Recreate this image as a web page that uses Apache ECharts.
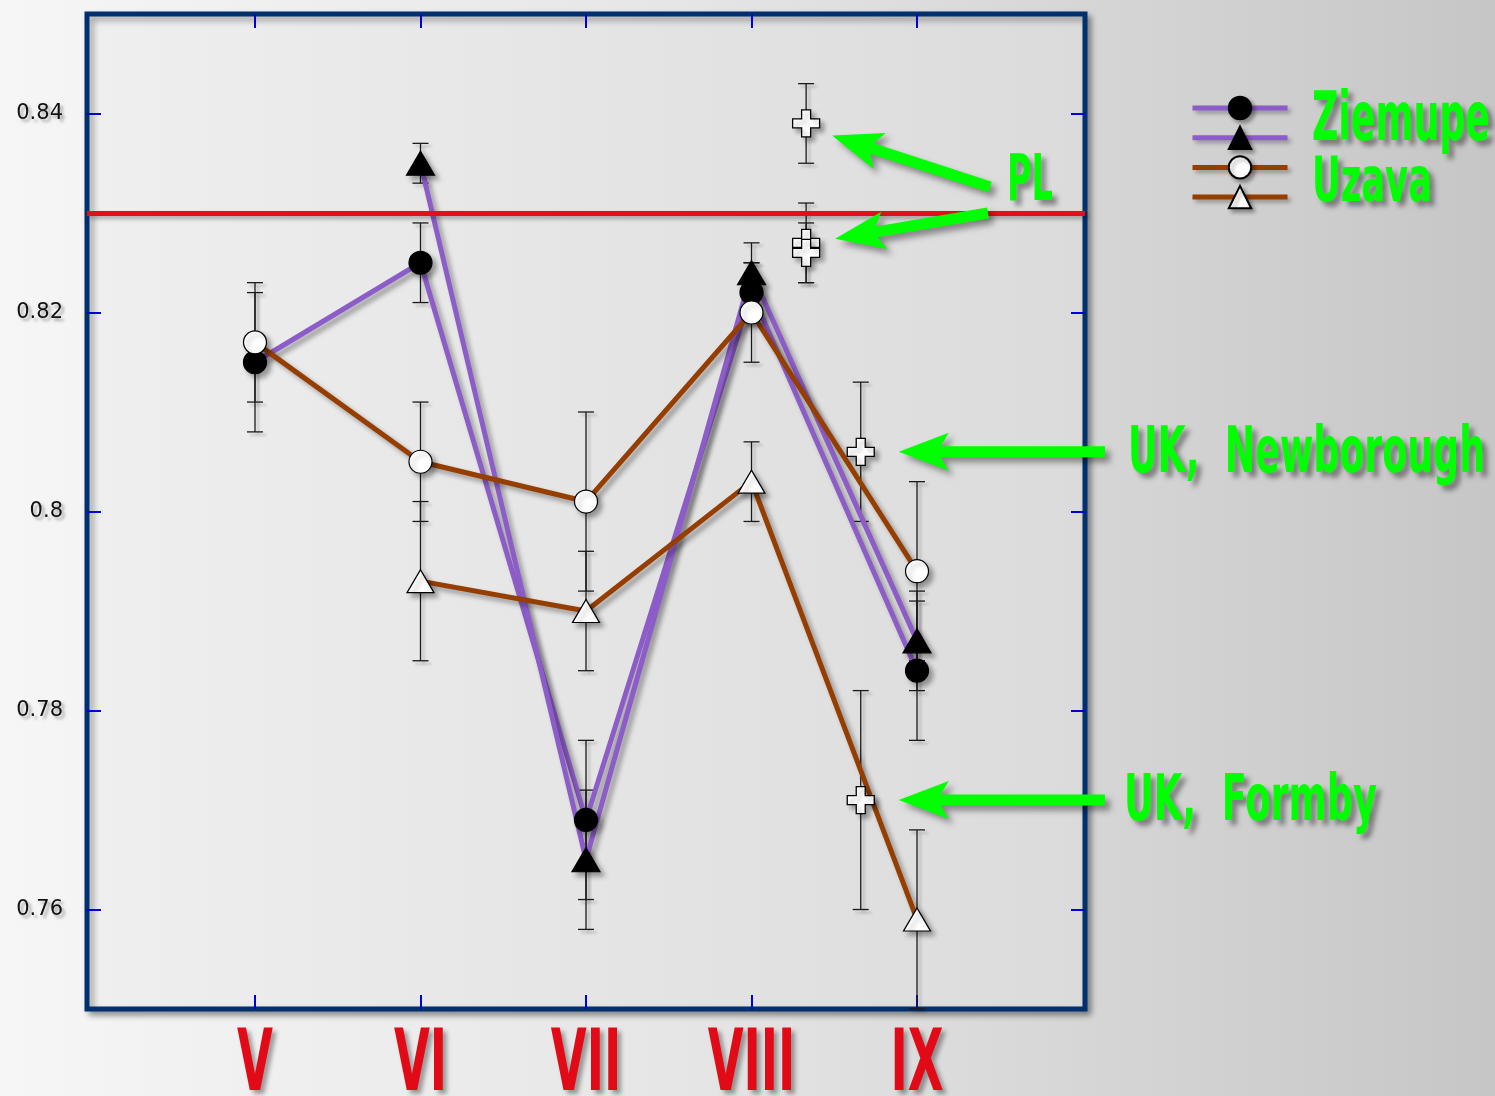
<!DOCTYPE html>
<html>
<head>
<meta charset="utf-8">
<script src="https://cdn.jsdelivr.net/npm/echarts@6/dist/echarts.min.js"></script>
<style>
  html, body { margin: 0; padding: 0; width: 1495px; height: 1096px; overflow: hidden;
    background: linear-gradient(to right, #f6f6f6 0%, #e6e6e6 45%, #c6c6c6 100%); }
  #chart { width: 1495px; height: 1096px; }
</style>
</head>
<body>
<div id="chart"></div>
<script>
// Months (positions on the x scale) and their labels
const monthPos = [0, 1, 2, 3, 4];
const monthLabels = ['V', 'VI', 'VII', 'VIII', 'IX'];

// y ticks
const yTicks = [0.76, 0.78, 0.80, 0.82, 0.84];
const yTickLabels = ['0.76', '0.78', '0.8', '0.82', '0.84'];

// Ziemupe (purple): circle and triangle populations, with error half-widths
const ziemupeCircle      = [0.815, 0.825, 0.769, 0.822, 0.784];
const ziemupeCircleErr   = [0.007, 0.004, 0.008, 0.003, 0.007];
const ziemupeTriangle    = [null, 0.835, 0.765, 0.824, 0.787];
const ziemupeTriangleErr = [null, 0.002, 0.007, 0.003, 0.005];

// Uzava (brown)
const uzavaCircle      = [0.817, 0.805, 0.801, 0.820, 0.794];
const uzavaCircleErr   = [0.006, 0.006, 0.009, 0.005, 0.009];
const uzavaTriangle    = [null, 0.793, 0.790, 0.803, 0.759];
const uzavaTriangleErr = [null, 0.008, 0.006, 0.004, 0.009];

// Reference samples (crosses)
const plPos = 3.33;
const plValues = [0.839, 0.827, 0.826];
const plErr    = [0.004, 0.004, 0.003];
const ukPos = 3.66;
const ukNames  = ['UK,  Newborough', 'UK,  Formby'];
const ukValues = [0.806, 0.771];
const ukErr    = [0.007, 0.011];

// Horizontal reference level
const plLevel = 0.830;

const PURPLE = '#8c5cc8';
const BROWN = '#963e00';
const GREEN = '#00ff00';
const MONTH_RED = '#e20a16';
const NARROW = '"Liberation Sans Narrow", "DejaVu Sans Condensed", "Roboto", sans-serif';
const CROSS = 'path://M9,0H18V9H27V18H18V27H9V18H0V9H9Z';

const dropShadow = { shadowColor: 'rgba(0,0,0,0.35)', shadowBlur: 5, shadowOffsetX: 4, shadowOffsetY: 4 };

function pairs(xs, ys) {
  const out = [];
  ys.forEach((v, i) => { if (v != null) out.push([xs[i], v]); });
  return out;
}

function errorBars(xs, ys, errs) {
  const out = [];
  ys.forEach((v, i) => { if (v != null) out.push([xs[i], v, errs[i]]); });
  return {
    type: 'custom',
    data: out,
    z: 1,
    silent: true,
    encode: { x: 0, y: 1 },
    renderItem(params, api) {
      const x = api.value(0), y = api.value(1), e = api.value(2);
      const hi = api.coord([x, y + e]);
      const lo = api.coord([x, y - e]);
      const w = 8;
      const style = { stroke: '#1a1a1a', lineWidth: 1.3, fill: null,
        shadowColor: 'rgba(0,0,0,0.25)', shadowBlur: 3, shadowOffsetX: 3, shadowOffsetY: 3 };
      return {
        type: 'group',
        children: [
          { type: 'line', shape: { x1: hi[0], y1: hi[1], x2: lo[0], y2: lo[1] }, style },
          { type: 'line', shape: { x1: hi[0] - w, y1: hi[1], x2: hi[0] + w, y2: hi[1] }, style },
          { type: 'line', shape: { x1: lo[0] - w, y1: lo[1], x2: lo[0] + w, y2: lo[1] }, style }
        ]
      };
    }
  };
}

function lineSeries(name, ys, color, symbol, size, fill, z) {
  return {
    type: 'line',
    name,
    data: pairs(monthPos, ys),
    z,
    symbol,
    symbolSize: size,
    showAllSymbol: true,
    lineStyle: Object.assign({ color, width: 5 }, dropShadow),
    itemStyle: Object.assign({ color: fill, borderColor: '#000', borderWidth: 1.2, opacity: 1 }, dropShadow),
    emphasis: { disabled: true }
  };
}

function crossSeries(name, pos, values) {
  return {
    type: 'scatter',
    name,
    z: 5,
    data: values.map(v => [pos, v]),
    symbol: CROSS,
    symbolSize: 27,
    itemStyle: Object.assign({ color: '#fff', borderColor: '#000', borderWidth: 1.3, opacity: 1 },
      { shadowColor: 'rgba(0,0,0,0.3)', shadowBlur: 4, shadowOffsetX: 4, shadowOffsetY: 4 }),
    emphasis: { disabled: true }
  };
}

const chart = echarts.init(document.getElementById('chart'), null, { renderer: 'canvas' });

const gridBox = { left: 87, right: 410, top: 14, bottom: 87 };

const tickStyle = { show: true, inside: true, length: 14, lineStyle: { color: '#0000d8', width: 2 } };
const hiddenLine = { show: false, onZero: false };

const plSeries = crossSeries('PL', plPos, plValues);
plSeries.markLine = {
  silent: true,
  symbol: 'none',
  label: { show: false },
  lineStyle: { color: '#e20f1c', width: 5, type: 'solid',
    shadowColor: 'rgba(0,0,0,0.3)', shadowBlur: 4, shadowOffsetX: 3, shadowOffsetY: 3 },
  emphasis: { disabled: true },
  data: [{ yAxis: plLevel }]
};

const option = {
  backgroundColor: 'transparent',
  animation: false,
  grid: Object.assign({
    show: true,
    containLabel: false,
    outerBoundsMode: 'none',
    borderColor: '#00306e',
    borderWidth: 5,
    backgroundColor: { type: 'linear', x: 0, y: 0, x2: 1, y2: 0,
      colorStops: [{ offset: 0, color: '#efefef' }, { offset: 1, color: '#dbdbdb' }] },
    shadowColor: 'rgba(0,0,0,0.35)', shadowBlur: 6, shadowOffsetX: 4, shadowOffsetY: 4
  }, gridBox),
  xAxis: [
    {
      type: 'value', min: -1.015, max: 5.015, position: 'bottom',
      axisLine: hiddenLine,
      splitLine: { show: false },
      axisTick: Object.assign({ customValues: monthPos }, tickStyle),
      axisLabel: {
        customValues: monthPos,
        formatter: v => monthLabels[Math.round(v)],
        color: MONTH_RED,
        fontFamily: NARROW,
        fontWeight: 'bold',
        fontSize: 86,
        margin: 16,
        textShadowColor: 'rgba(0,0,0,0.35)', textShadowBlur: 4, textShadowOffsetX: 4, textShadowOffsetY: 4
      }
    },
    {
      type: 'value', min: -1.015, max: 5.015, position: 'top',
      axisLine: hiddenLine, splitLine: { show: false },
      axisTick: Object.assign({ customValues: monthPos }, tickStyle),
      axisLabel: { show: false }
    }
  ],
  yAxis: [
    {
      type: 'value', min: 0.75, max: 0.85, position: 'left',
      axisLine: hiddenLine, splitLine: { show: false },
      axisTick: Object.assign({ customValues: yTicks }, tickStyle),
      axisLabel: {
        customValues: yTicks,
        formatter: v => yTickLabels[yTicks.findIndex(t => Math.abs(t - v) < 1e-6)],
        color: '#111',
        fontFamily: '"DejaVu Sans", sans-serif',
        fontSize: 21,
        margin: 24,
        textShadowColor: 'rgba(0,0,0,0.3)', textShadowBlur: 3, textShadowOffsetX: 3, textShadowOffsetY: 3
      }
    },
    {
      type: 'value', min: 0.75, max: 0.85, position: 'right',
      axisLine: hiddenLine, splitLine: { show: false },
      axisTick: Object.assign({ customValues: yTicks }, tickStyle),
      axisLabel: { show: false }
    }
  ],
  legend: {
    orient: 'vertical',
    left: 1190,
    top: 94,
    padding: 0,
    itemWidth: 95,
    itemHeight: 28,
    itemGap: 3.5,
    selectedMode: false,
    formatter: () => '',
    data: ['Ziemupe ●', 'Ziemupe ▲', 'Uzava ○', 'Uzava △'],
    lineStyle: { width: 5, shadowColor: 'rgba(0,0,0,0.3)', shadowBlur: 4, shadowOffsetX: 3, shadowOffsetY: 3 },
    itemStyle: { shadowColor: 'rgba(0,0,0,0.35)', shadowBlur: 4, shadowOffsetX: 3, shadowOffsetY: 3 }
  },
  series: [
    errorBars(monthPos, ziemupeCircle, ziemupeCircleErr),
    errorBars(monthPos, ziemupeTriangle, ziemupeTriangleErr),
    errorBars(monthPos, uzavaCircle, uzavaCircleErr),
    errorBars(monthPos, uzavaTriangle, uzavaTriangleErr),
    errorBars(plValues.map(() => plPos), plValues, plErr),
    errorBars(ukValues.map(() => ukPos), ukValues, ukErr),
    lineSeries('Ziemupe ●', ziemupeCircle, PURPLE, 'circle', 23, '#000', 3),
    lineSeries('Ziemupe ▲', ziemupeTriangle, PURPLE, 'triangle', [28, 24], '#000', 3),
    lineSeries('Uzava ○', uzavaCircle, BROWN, 'circle', 23, '#fff', 4),
    lineSeries('Uzava △', uzavaTriangle, BROWN, 'triangle', [27, 23], '#fff', 4),
    plSeries,
    crossSeries('UK', ukPos, ukValues)
  ]
};

chart.setOption(option);

// ---- annotations: green labels and arrows ----
const measureCtx = document.createElement('canvas').getContext('2d');
function greenText(text, left, capTop, capHeight, width) {
  const fontSize = Math.round(capHeight / 0.729);
  const font = 'bold ' + fontSize + 'px ' + NARROW;
  measureCtx.font = font;
  const s = width / measureCtx.measureText(text).width;
  return {
    type: 'text', x: left, y: capTop + capHeight / 2, scaleX: s, z: 20,
    style: {
      text, font, fill: GREEN, textAlign: 'left', textVerticalAlign: 'middle', align: 'left', verticalAlign: 'middle',
      textShadowColor: 'rgba(0,0,0,0.4)', textShadowBlur: 5, textShadowOffsetX: 5, textShadowOffsetY: 5
    }
  };
}

function arrow(tail, tip) {
  const dx = tip[0] - tail[0], dy = tip[1] - tail[1];
  const L = Math.hypot(dx, dy);
  const d = [dx / L, dy / L], n = [-d[1], d[0]];
  const head = 50, notch = 42, hw = 19, sw = 5.5;
  const p = (base, a, b) => [base[0] + d[0] * a + n[0] * b, base[1] + d[1] * a + n[1] * b];
  return {
    type: 'polygon', z: 19,
    shape: { points: [tip, p(tip, -head, hw), p(tip, -notch, sw), p(tail, 0, sw), p(tail, 0, -sw), p(tip, -notch, -sw), p(tip, -head, -hw)] },
    style: { fill: GREEN, shadowColor: 'rgba(0,0,0,0.4)', shadowBlur: 6, shadowOffsetX: 5, shadowOffsetY: 5 }
  };
}

const px = (x, y) => chart.convertToPixel({ xAxisIndex: 0, yAxisIndex: 0 }, [x, y]);
const pl0 = px(plPos, plValues[0]);
const pl1 = px(plPos, plValues[1]);
const uk0 = px(ukPos, ukValues[0]);
const uk1 = px(ukPos, ukValues[1]);

chart.setOption({
  graphic: [
    arrow([990, 187], [pl0[0] + 26, pl0[1] + 12]),
    arrow([988, 213], [pl1[0] + 29, pl1[1] - 4]),
    arrow([1105, uk0[1]], [uk0[0] + 38, uk0[1]]),
    arrow([1105, uk1[1]], [uk1[0] + 38, uk1[1]]),
    greenText('PL', 1007, 160, 47, 46),
    greenText(ukNames[0], 1128, uk0[1] - 20, 47, 357),
    greenText(ukNames[1], 1124, uk1[1] - 20, 47, 253),
    greenText('Ziemupe', 1312, 98, 49, 178),
    greenText('Uzava', 1312, 162, 46, 120)
  ]
});

// Month labels are set in a tall, compressed face: squeeze them horizontally
// around their own centres once the axis has laid them out.
function condenseMonthLabels(factor) {
  const zr = chart.getZr();
  zr.storage.getRoots().forEach(root => {
    const visit = el => {
      if (el.type === 'text' && el.style && el.style.fill === MONTH_RED && monthLabels.includes(el.style.text)) {
        el.scaleX = factor;
        el.markRedraw();
      }
    };
    visit(root);
    if (root.traverse) root.traverse(visit);
  });
  zr.refreshImmediately();
}
condenseMonthLabels(0.6);
</script>
</body>
</html>
